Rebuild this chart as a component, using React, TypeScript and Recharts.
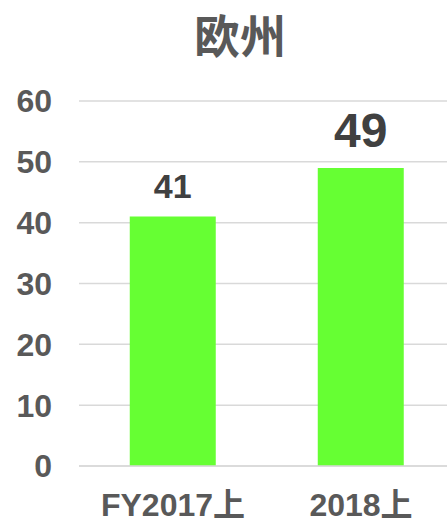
import React from "react";
import { BarChart, Bar, XAxis, YAxis, CartesianGrid, LabelList } from "recharts";

const periods = ["FY2017上", "2018上"];
const europeSales = [41, 49];
const yTicks = [0, 10, 20, 30, 40, 50, 60];

const data = periods.map((period, i) => ({ period, value: europeSales[i] }));

const FONT = '"Liberation Sans", "Noto Sans CJK JP", sans-serif';
const labelSizes = [34, 48];
const labelGaps = [19, 21];

const ValueLabel = (props: any) => {
  const { x, y, width, value, index } = props;
  return (
    <text
      x={x + width / 2}
      y={y - labelGaps[index]}
      textAnchor="middle"
      fill="#404040"
      fontFamily={FONT}
      fontWeight={700}
      fontSize={labelSizes[index]}
    >
      {value}
    </text>
  );
};

export default function App() {
  return (
    <div
      style={{
        position: "fixed",
        left: 0,
        top: 0,
        width: 447,
        height: 520,
        overflow: "hidden",
        background: "#fff",
      }}
    >
      <div
        style={{
          position: "absolute",
          left: 0,
          top: 0,
          width: 480,
          textAlign: "center",
          fontFamily: '"Noto Sans CJK JP", sans-serif',
          fontWeight: 700,
          fontSize: 46,
          lineHeight: "66px",
          color: "#595959",
        }}
      >
        欧州
      </div>
      <BarChart
        width={455}
        height={520}
        data={data}
        margin={{ top: 101, right: 0, left: 0, bottom: 0 }}
        barCategoryGap="27%"
      >
        <CartesianGrid vertical={false} stroke="#d9d9d9" strokeWidth={1.5} />
        <XAxis
          dataKey="period"
          height={54}
          axisLine={{ stroke: "#d9d9d9", strokeWidth: 1.5 }}
          tickLine={false}
          tickSize={0}
          tickMargin={27}
          tick={{ fill: "#595959", fontSize: 32, fontFamily: FONT, fontWeight: 700 }}
        />
        <YAxis
          width={79}
          domain={[0, 60]}
          ticks={yTicks}
          axisLine={false}
          tickLine={false}
          tickSize={0}
          tickMargin={27}
          tick={{ fill: "#595959", fontSize: 32, fontFamily: FONT, fontWeight: 700 }}
        />
        <Bar dataKey="value" fill="#66ff33" isAnimationActive={false}>
          <LabelList dataKey="value" content={<ValueLabel />} />
        </Bar>
      </BarChart>
    </div>
  );
}
